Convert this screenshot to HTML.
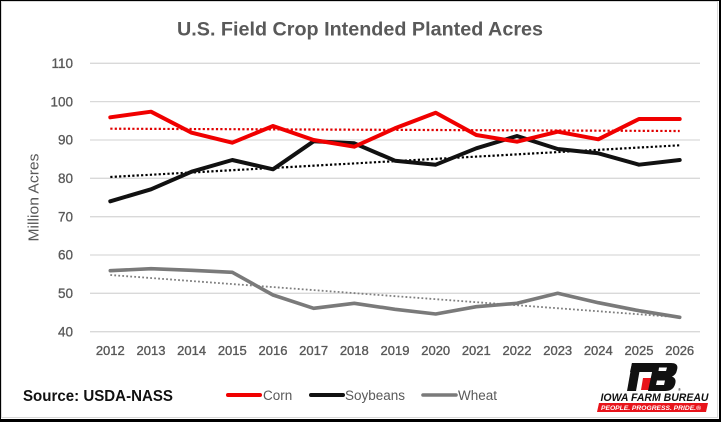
<!DOCTYPE html>
<html><head><meta charset="utf-8"><style>
html,body{margin:0;padding:0;background:#fff;}
svg{display:block;}
</style></head><body>
<svg width="721" height="422" viewBox="0 0 721 422" xmlns="http://www.w3.org/2000/svg" font-family="Liberation Sans, Arial, sans-serif">
<rect x="0" y="0" width="721" height="422" fill="#fff"/>
<!-- borders -->
<rect x="1.5" y="1.5" width="716" height="416" fill="none" stroke="#d9d9d9" stroke-width="1"/>
<rect x="0" y="0" width="721" height="1" fill="#000"/>
<rect x="0" y="0" width="1" height="422" fill="#000"/>
<rect x="719" y="0" width="2" height="422" fill="#000"/>
<rect x="0" y="419" width="721" height="3" fill="#000"/>

<!-- title -->
<text x="360" y="35.5" text-anchor="middle" font-size="19" font-weight="bold" fill="#595959" textLength="366" lengthAdjust="spacingAndGlyphs">U.S. Field Crop Intended Planted Acres</text>

<!-- gridlines -->
<g stroke="#d9d9d9" stroke-width="1.3">
<line x1="90" x2="700" y1="63.3" y2="63.3"/>
<line x1="90" x2="700" y1="101.6" y2="101.6"/>
<line x1="90" x2="700" y1="140" y2="140"/>
<line x1="90" x2="700" y1="178.3" y2="178.3"/>
<line x1="90" x2="700" y1="216.7" y2="216.7"/>
<line x1="90" x2="700" y1="255" y2="255"/>
<line x1="90" x2="700" y1="293.3" y2="293.3"/>
<line x1="90" x2="700" y1="331.7" y2="331.7"/>
</g>

<!-- y labels -->
<g font-size="13.5" fill="#595959" stroke="#595959" stroke-width="0.3" text-anchor="end">
<text x="73" y="68">110</text>
<text x="73" y="106.3">100</text>
<text x="73" y="144.7">90</text>
<text x="73" y="183">80</text>
<text x="73" y="221.4">70</text>
<text x="73" y="259.7">60</text>
<text x="73" y="298">50</text>
<text x="73" y="336.4">40</text>
</g>

<!-- y axis title -->
<text transform="translate(38.5,197.5) rotate(-90)" text-anchor="middle" font-size="15" fill="#595959" textLength="88" lengthAdjust="spacingAndGlyphs">Million Acres</text>

<!-- x labels -->
<g font-size="13" fill="#595959" stroke="#595959" stroke-width="0.35" text-anchor="middle">
<text x="110.3" y="355">2012</text>
<text x="151" y="355">2013</text>
<text x="191.6" y="355">2014</text>
<text x="232.3" y="355">2015</text>
<text x="273" y="355">2016</text>
<text x="313.6" y="355">2017</text>
<text x="354.3" y="355">2018</text>
<text x="395" y="355">2019</text>
<text x="435.7" y="355">2020</text>
<text x="476.3" y="355">2021</text>
<text x="517" y="355">2022</text>
<text x="557.7" y="355">2023</text>
<text x="598.3" y="355">2024</text>
<text x="639" y="355">2025</text>
<text x="679.7" y="355">2026</text>
</g>

<!-- trend lines -->
<line x1="110.3" y1="128.7" x2="679.7" y2="131" stroke="#e00000" stroke-width="2.2" stroke-dasharray="2.2,2.2"/>
<line x1="110.3" y1="177" x2="679.7" y2="145.3" stroke="#000" stroke-width="2.2" stroke-dasharray="2.2,2.2"/>
<line x1="110.3" y1="275" x2="679.7" y2="317.3" stroke="#7f7f7f" stroke-width="1.8" stroke-dasharray="1.8,2.2"/>

<!-- series -->
<polyline fill="none" stroke="#7a7a7a" stroke-width="3.6" stroke-linejoin="round" stroke-linecap="round"
points="110.3,270.7 151,268.7 191.6,270.3 232.3,272.3 273,295 313.6,308.3 354.3,303.3 395,309.3 435.7,314 476.3,306.7 517,303.3 557.7,293.3 598.3,302.7 639,310.7 679.7,317.3"/>
<polyline fill="none" stroke="#111" stroke-width="4" stroke-linejoin="round" stroke-linecap="round"
points="110.3,201.3 151,189.3 191.6,171.7 232.3,160 273,169.3 313.6,141.3 354.3,143.3 395,160.7 435.7,164.7 476.3,148.3 517,136 557.7,149 598.3,153.3 639,164.7 679.7,160"/>
<polyline fill="none" stroke="#f00000" stroke-width="4" stroke-linejoin="round" stroke-linecap="round"
points="110.3,117.3 151,111.7 191.6,132.7 232.3,142.7 273,126 313.6,140 354.3,146.7 395,128.3 435.7,112.7 476.3,135 517,141.7 557.7,131.7 598.3,139.3 639,119 679.7,119"/>

<!-- source -->
<text x="23" y="401" font-size="15.5" font-weight="bold" fill="#111" textLength="150" lengthAdjust="spacingAndGlyphs">Source: USDA-NASS</text>

<!-- legend -->
<line x1="228" y1="395" x2="260" y2="395" stroke="#f00000" stroke-width="4" stroke-linecap="round"/>
<text x="263" y="400" font-size="13.5" fill="#595959">Corn</text>
<line x1="311" y1="395" x2="343" y2="395" stroke="#111" stroke-width="4" stroke-linecap="round"/>
<text x="345" y="400" font-size="13.5" fill="#595959" textLength="60" lengthAdjust="spacingAndGlyphs">Soybeans</text>
<line x1="423" y1="395" x2="456" y2="395" stroke="#7a7a7a" stroke-width="3.6" stroke-linecap="round"/>
<text x="458" y="400" font-size="13.5" fill="#595959" textLength="39" lengthAdjust="spacingAndGlyphs">Wheat</text>

<!-- logo -->
<g>
<polygon points="632,363 641,363 636,391 627,391" fill="#111"/>
<polygon points="632,363 664,363 662,372 630,372" fill="#111"/>
<polygon points="643,378 651,378 649,390 641,390" fill="#e8141b"/>
<path d="M654,363 L671,363 Q679,363 677,370 Q676,375 672,376.5 Q677,378.5 675,384.5 Q673,391 665,391 L648,391 Z" fill="#111"/>
<polygon points="659,367.5 667,367.5 666,371 658.5,371" fill="#fff"/>
<polygon points="657,380.5 665,380.5 664,385 656,385" fill="#fff"/>
<text x="678" y="391" font-size="4" fill="#111">®</text>
</g>
<text x="600.5" y="401" font-size="11" font-weight="bold" font-style="italic" fill="#111" textLength="108" lengthAdjust="spacingAndGlyphs">IOWA FARM BUREAU</text>
<polygon points="599,403 708,403 706,412 597,412" fill="#e8141b"/>
<text x="601" y="410" font-size="6.5" font-weight="bold" font-style="italic" fill="#fff" textLength="100" lengthAdjust="spacingAndGlyphs">PEOPLE. PROGRESS. PRIDE.®</text>
</svg>
</body></html>
